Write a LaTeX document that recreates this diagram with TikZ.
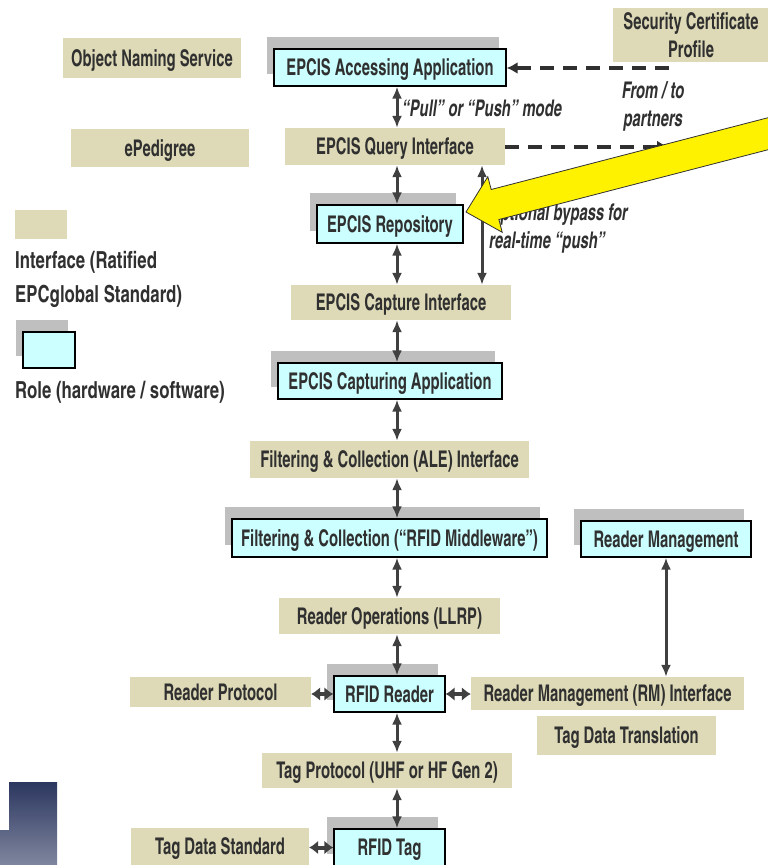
\documentclass[tikz,border=0pt]{standalone}
\usepackage{fontspec}
\setmainfont{texgyreheroscn}[Extension=.otf, UprightFont=*-bold, BoldFont=*-bold, ItalicFont=*-bolditalic, BoldItalicFont=*-bolditalic, FakeStretch=0.785]
\newfontfamily\keyfont{texgyreheroscn}[Extension=.otf, UprightFont=*-bold, BoldFont=*-bold, FakeStretch=0.87]
\usepackage{xcolor}
\usepackage{tikz}
\usetikzlibrary{arrows.meta,shadows}
\definecolor{ifacetan}{RGB}{222,218,183}
\definecolor{rolecyan}{RGB}{204,255,255}
\definecolor{shadowgray}{RGB}{191,191,191}
\definecolor{inkgray}{RGB}{48,48,48}
\definecolor{arrowgray}{RGB}{64,64,64}
\definecolor{navytop}{RGB}{44,55,96}
\definecolor{navybottom}{RGB}{127,134,158}

\begin{document}
\begin{tikzpicture}[x=1pt,y=-1pt,
	font=\fontsize{23}{24}\selectfont, text=inkgray,
	iface/.style={fill=ifacetan, inner sep=0pt, text height=16.5pt, text depth=0pt},
	role/.style={fill=rolecyan, draw=black, line width=1.3pt, inner sep=0pt, text height=16.5pt, text depth=0pt,
		general shadow={fill=shadowgray, shadow xshift=-7.5pt, shadow yshift=12pt}},
	link/.style={{Latex[length=12pt,width=10pt]}-{Latex[length=12pt,width=10pt]}, line width=3pt, draw=arrowgray},
	sidelink/.style={{Latex[length=9pt,width=14pt]}-{Latex[length=9pt,width=14pt]}, line width=4pt, draw=arrowgray},
	partner/.style={-{Latex[length=11pt,width=12pt]}, line width=4pt, draw=inkgray, dash pattern=on 14pt off 9pt},
	note/.style={font=\fontsize{23}{28}\selectfont\itshape, inner sep=0pt}]
	\path[use as bounding box, clip] (0,0) rectangle (768,865);
	\shade[top color=navytop, bottom color=navybottom] (9,782) -- (57,782) -- (57,865) -- (0,865) -- (0,830) -- (9,830) -- cycle;

	% interfaces
	\node[iface, minimum width=178pt, minimum height=40pt] (ons) at (152,58) {Object Naming Service};
	\node[iface, minimum width=178pt, minimum height=38pt] (eped) at (160,148) {ePedigree};
	\node[fill=ifacetan, inner sep=0pt, minimum width=156pt, minimum height=54pt, align=center, font=\fontsize{23}{28}\selectfont] (scp) at (691,35) {Security Certificate\\Profile};
	\node[iface, minimum width=220pt, minimum height=37pt] (query) at (395,146.5) {EPCIS Query Interface};
	\node[iface, minimum width=220pt, minimum height=35pt] (capi) at (401,302.5) {EPCIS Capture Interface};
	\node[iface, minimum width=279pt, minimum height=37pt] (ale) at (389.5,459.5) {Filtering \& Collection (ALE) Interface};
	\node[iface, minimum width=221pt, minimum height=36pt] (llrp) at (389.5,616) {Reader Operations (LLRP)};
	\node[iface, minimum width=181pt, minimum height=30pt] (rprot) at (220.5,692) {Reader Protocol};
	\node[iface, minimum width=273pt, minimum height=33pt] (rmi) at (607.5,693.5) {Reader Management (RM) Interface};
	\node[iface, minimum width=179pt, minimum height=39pt] (tdt) at (626.5,735.5) {Tag Data Translation};
	\node[iface, minimum width=250pt, minimum height=35pt] (tprot) at (387,770.5) {Tag Protocol (UHF or HF Gen 2)};
	\node[iface, minimum width=178pt, minimum height=37pt] (tds) at (220,846.5) {Tag Data Standard};

	% roles
	\node[role, minimum width=232pt, minimum height=37pt] (acc) at (390,67.5) {EPCIS Accessing Application};
	\node[role, minimum width=146pt, minimum height=38pt] (repo) at (390,224) {EPCIS Repository};
	\node[role, minimum width=224pt, minimum height=36pt] (capa) at (390,381) {EPCIS Capturing Application};
	\node[role, minimum width=315pt, minimum height=38pt] (mw) at (389.5,538) {Filtering \& Collection (“RFID Middleware”)};
	\node[role, minimum width=170pt, minimum height=36pt] (rm) at (666,539) {Reader Management};
	\node[role, minimum width=111pt, minimum height=36pt] (reader) at (389.5,694) {RFID Reader};
	\node[role, minimum width=111pt, minimum height=37pt] (tag) at (389.5,847.5) {RFID Tag};

	% legend
	\node[iface, minimum width=52pt, minimum height=29pt] (keyiface) at (41,224.5) {};
	\node[inner sep=0pt, anchor=west, align=left, font=\keyfont\fontsize{23.5}{34}\selectfont] (keyifacetext) at (15,279) {Interface (Ratified\\EPCglobal Standard)};
	\node[role, minimum width=52pt, minimum height=36pt] (keyrole) at (49,350) {};
	\node[inner sep=0pt, anchor=west, font=\keyfont\fontsize{23.5}{34}\selectfont] (keyroletext) at (15,392) {Role (hardware / software)};

	% connectors
	\coordinate (spine) at (397,0);
	\coordinate (bypass) at (482,0);
	\draw[link] (acc.south -| spine) -- (query.north -| spine);
	\draw[link] (query.south -| spine) -- (repo.north -| spine);
	\draw[link] (repo.south -| spine) -- (capi.north -| spine);
	\draw[link] (capi.south -| spine) -- (capa.north -| spine);
	\draw[link] (capa.south -| spine) -- (ale.north -| spine);
	\draw[link] (ale.south -| spine) -- (mw.north -| spine);
	\draw[link] (mw.south -| spine) -- (llrp.north -| spine);
	\draw[link] (llrp.south -| spine) -- (reader.north -| spine);
	\draw[link] (reader.south -| spine) -- (tprot.north -| spine);
	\draw[link] (tprot.south -| spine) -- (tag.north -| spine);
	\draw[link] (query.south -| bypass) -- (capi.north -| bypass);
	\draw[link] (rm.south) -- (rm.south |- rmi.north);
	\draw[sidelink] (reader.west -| rprot.east) -- (reader.west);
	\draw[sidelink] (reader.east) -- (reader.east -| rmi.west);
	\draw[sidelink] (tag.west -| tds.east) -- (tag.west);

	\coordinate (fromptn) at (669,68);
	\coordinate (toptn) at (668,147);
	\draw[partner] (fromptn) -- (fromptn -| acc.east);
	\draw[partner] (query.east) -- (query.east -| toptn);

	% notes
	\node[note, anchor=west] (pullpush) at (402,108) {“Pull” or “Push” mode};
	\node[note, align=center] (partners) at (653,106) {From / to\\partners};
	\node[note, align=left, anchor=north west] (bypasstext) at (489,203) {Optional bypass for\\real-time “push”};

	% callout arrow
	\draw[fill=yellow, draw=inkgray, line width=0.8pt] (466,212) -- (487.8,176.7) -- (491.2,189.5) -- (791.2,111.7) -- (799,141.7) -- (498.9,219.5) -- (502.2,232.3) -- cycle;
\end{tikzpicture}
\end{document}
